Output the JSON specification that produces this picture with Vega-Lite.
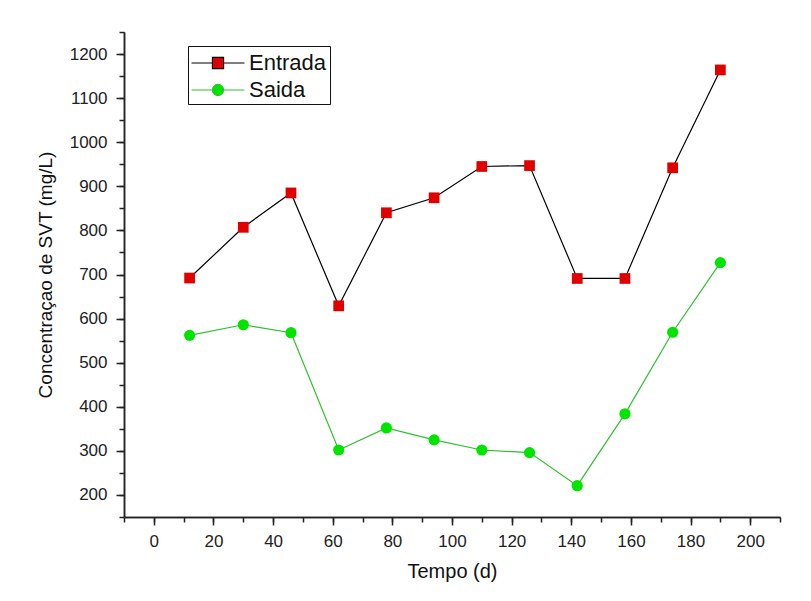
{
  "$schema": "https://vega.github.io/schema/vega-lite/v6.json",
  "width": 656,
  "height": 485,
  "autosize": {"type": "none"},
  "padding": {"left": 124, "top": 32, "right": 31, "bottom": 84},
  "background": "white",
  "config": {
    "view": {"stroke": null},
    "font": "Liberation Sans",
    "axis": {
      "grid": false,
      "domainColor": "#222222",
      "domainWidth": 1.5,
      "tickColor": "#222222",
      "tickWidth": 1.5,
      "labelFont": "Liberation Sans",
      "labelColor": "#222222",
      "titleFont": "Liberation Sans",
      "titleColor": "#111111",
      "titleFontWeight": "normal"
    }
  },
  "data": {
    "values": [
      {"tempo": 12, "serie": "Entrada", "valor": 692},
      {"tempo": 30, "serie": "Entrada", "valor": 807},
      {"tempo": 46, "serie": "Entrada", "valor": 885},
      {"tempo": 62, "serie": "Entrada", "valor": 629},
      {"tempo": 78, "serie": "Entrada", "valor": 840},
      {"tempo": 94, "serie": "Entrada", "valor": 874},
      {"tempo": 110, "serie": "Entrada", "valor": 945},
      {"tempo": 126, "serie": "Entrada", "valor": 947},
      {"tempo": 142, "serie": "Entrada", "valor": 691},
      {"tempo": 158, "serie": "Entrada", "valor": 691},
      {"tempo": 174, "serie": "Entrada", "valor": 942},
      {"tempo": 190, "serie": "Entrada", "valor": 1164},
      {"tempo": 12, "serie": "Saida", "valor": 562},
      {"tempo": 30, "serie": "Saida", "valor": 586},
      {"tempo": 46, "serie": "Saida", "valor": 568},
      {"tempo": 62, "serie": "Saida", "valor": 302},
      {"tempo": 78, "serie": "Saida", "valor": 352},
      {"tempo": 94, "serie": "Saida", "valor": 325},
      {"tempo": 110, "serie": "Saida", "valor": 302},
      {"tempo": 126, "serie": "Saida", "valor": 296},
      {"tempo": 142, "serie": "Saida", "valor": 221},
      {"tempo": 158, "serie": "Saida", "valor": 384},
      {"tempo": 174, "serie": "Saida", "valor": 569},
      {"tempo": 190, "serie": "Saida", "valor": 727}
    ]
  },
  "resolve": {"axis": {"x": "independent", "y": "independent"}},
  "layer": [
    {
      "transform": [{"filter": "datum.serie === 'Entrada'"}],
      "mark": {"type": "line", "strokeWidth": 1.2, "color": "#000000"},
      "encoding": {
        "x": {
          "field": "tempo", "type": "quantitative",
          "scale": {"domain": [-10, 210], "nice": false, "zero": false},
          "axis": {"orient": "bottom", "values": [-10, 0, 10, 20, 30, 40, 50, 60, 70, 80, 90, 100, 110, 120, 130, 140, 150, 160, 170, 180, 190, 200, 210], "labels": false, "tickSize": 5, "title": null}
        },
        "y": {
          "field": "valor", "type": "quantitative",
          "scale": {"domain": [150, 1250], "nice": false, "zero": false},
          "axis": {"orient": "left", "values": [150, 200, 250, 300, 350, 400, 450, 500, 550, 600, 650, 700, 750, 800, 850, 900, 950, 1000, 1050, 1100, 1150, 1200, 1250], "labels": false, "tickSize": 5, "title": null}
        }
      }
    },
    {
      "transform": [{"filter": "datum.serie === 'Saida'"}],
      "mark": {"type": "line", "strokeWidth": 1.2, "color": "#2fc02f"},
      "encoding": {
        "x": {"field": "tempo", "type": "quantitative", "axis": null},
        "y": {"field": "valor", "type": "quantitative", "axis": null}
      }
    },
    {
      "transform": [{"filter": "datum.serie === 'Entrada'"}],
      "mark": {"type": "point", "filled": true, "opacity": 1, "shape": "square", "size": 115, "color": "#e00000"},
      "encoding": {
        "x": {"field": "tempo", "type": "quantitative", "axis": null},
        "y": {"field": "valor", "type": "quantitative", "axis": null}
      }
    },
    {
      "transform": [{"filter": "datum.serie === 'Saida'"}],
      "mark": {"type": "point", "filled": true, "opacity": 1, "shape": "circle", "size": 125, "color": "#00e400"},
      "encoding": {
        "x": {"field": "tempo", "type": "quantitative", "axis": null},
        "y": {"field": "valor", "type": "quantitative", "axis": null}
      }
    },
    {
      "transform": [{"filter": "datum.tempo < 0"}],
      "mark": {"type": "point", "filled": true, "opacity": 1},
      "encoding": {
        "x": {
          "field": "tempo", "type": "quantitative",
          "axis": {"orient": "bottom", "values": [0, 20, 40, 60, 80, 100, 120, 140, 160, 180, 200], "format": "d", "tickSize": 8, "labelPadding": 8, "labelFontSize": 17, "title": "Tempo (d)", "titleFontSize": 20, "titlePadding": 12}
        },
        "y": {
          "field": "valor", "type": "quantitative",
          "axis": {"orient": "left", "values": [200, 300, 400, 500, 600, 700, 800, 900, 1000, 1100, 1200], "format": "d", "tickSize": 8, "labelPadding": 9, "labelFontSize": 17, "title": "Concentraçao de SVT (mg/L)", "titleFontSize": 19, "titlePadding": 14}
        },
        "shape": {
          "field": "serie", "type": "nominal",
          "scale": {"domain": ["Entrada", "Saida"], "range": ["M-2,0H-0.42M0.42,0H2M-0.42,-0.42H0.42V0.42H-0.42Z", "M-2,0H-0.42M0.42,0H2M0.42,0A0.42,0.42,0,1,1,-0.42,0A0.42,0.42,0,1,1,0.42,0Z"]},
          "legend": {"orient": "none", "legendX": 64, "legendY": 14, "title": null, "strokeColor": "#111111", "fillColor": "white", "padding": 3, "rowPadding": 2, "symbolSize": 700, "symbolStrokeWidth": 1.2, "symbolOffset": 13, "labelFontSize": 22, "labelFont": "Liberation Sans", "labelColor": "#111111", "labelOffset": 17}
        },
        "stroke": {
          "field": "serie", "type": "nominal",
          "scale": {"domain": ["Entrada", "Saida"], "range": ["#000000", "#2fc02f"]},
          "legend": {"orient": "none", "legendX": 64, "legendY": 14, "title": null, "strokeColor": "#111111", "fillColor": "white", "padding": 3, "rowPadding": 2, "symbolSize": 700, "symbolStrokeWidth": 1.2, "symbolOffset": 13, "labelFontSize": 22, "labelFont": "Liberation Sans", "labelColor": "#111111", "labelOffset": 17}
        },
        "color": {
          "field": "serie", "type": "nominal",
          "scale": {"domain": ["Entrada", "Saida"], "range": ["#e00000", "#00e400"]},
          "legend": {"orient": "none", "legendX": 64, "legendY": 14, "title": null, "strokeColor": "#111111", "fillColor": "white", "padding": 3, "rowPadding": 2, "symbolSize": 700, "symbolStrokeWidth": 1.2, "symbolOffset": 13, "labelFontSize": 22, "labelFont": "Liberation Sans", "labelColor": "#111111", "labelOffset": 17}
        }
      }
    }
  ]
}
